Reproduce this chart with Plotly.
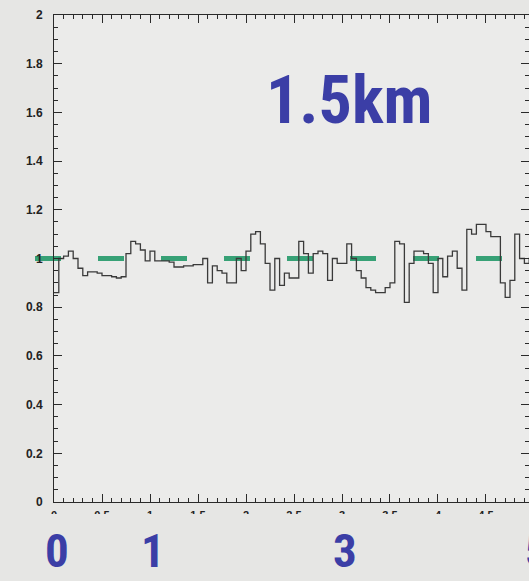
import plotly.graph_objects as go

# Ratio histogram: 100 bins of width 0.05 from 0 to 5
BIN_WIDTH = 0.05
RATIO = [
    0.86, 1.00, 1.01, 1.03, 1.00, 0.96, 0.93, 0.945, 0.945, 0.94,
    0.93, 0.93, 0.925, 0.92, 0.925, 1.02, 1.07, 1.06, 1.035, 0.99,
    1.03, 0.99, 0.99, 0.99, 0.985, 0.965, 0.965, 0.97, 0.97, 0.975,
    0.975, 1.00, 0.90, 0.97, 0.95, 0.94, 0.90, 0.90, 1.00, 0.95,
    1.03, 1.10, 1.11, 1.06, 0.98, 0.87, 1.00, 0.89, 0.94, 0.92,
    0.92, 1.07, 1.02, 0.94, 1.02, 1.03, 1.02, 0.91, 1.00, 0.98,
    0.98, 1.06, 1.00, 0.95, 0.92, 0.88, 0.87, 0.86, 0.86, 0.88,
    0.90, 1.07, 1.06, 0.82, 0.98, 1.03, 1.03, 1.02, 0.98, 0.86,
    1.00, 0.925, 1.01, 1.03, 0.96, 0.87, 1.12, 1.10, 1.14, 1.14,
    1.11, 1.09, 1.09, 0.90, 0.84, 0.91, 1.10, 1.00, 0.98, 1.00,
]
REF_LEVEL = 1.0
DIST_LABELS = [0, 1, 3, 5]
TITLE = "1.5km"

X_RANGE = [0, 4.948]
Y_RANGE = [0, 2]

BG = "#e6e6e4"
PLOT_BG = "#ebebea"
BLUE = "#3b3ea6"
AXIS = "#2a2a2a"
NARROW = "Liberation Sans Narrow, Roboto Condensed, Liberation Sans, Arial"

# step outline: left edge of every bin plus the closing right edge
edges = [i * BIN_WIDTH for i in range(len(RATIO) + 1)]
ys = RATIO + [RATIO[-1]]

fig = go.Figure()
fig.add_trace(go.Scatter(
    x=edges, y=ys, mode="lines", line_shape="hv",
    line=dict(color="#3a3a3a", width=1.3),
    hoverinfo="skip", showlegend=False,
))


def xfrac(v):
    return (v - X_RANGE[0]) / (X_RANGE[1] - X_RANGE[0])


# dashed reference level, extending a little left of the frame
fig.add_shape(
    type="line", xref="paper", yref="paper", layer="below",
    x0=-0.04, x1=1.0,
    y0=REF_LEVEL / Y_RANGE[1], y1=REF_LEVEL / Y_RANGE[1],
    line=dict(color="#24996a", width=5, dash="26px,37px"),
    opacity=0.9,
)

# lower band that hides the bottom of the x tick labels
fig.add_shape(
    type="rect", xref="paper", yref="paper", layer="above",
    x0=-0.2, x1=1.1, y0=-0.0246, y1=-0.2,
    fillcolor=BG, line=dict(width=0),
)

fig.add_annotation(
    text=TITLE, xref="paper", yref="paper", x=0.621, y=0.825,
    showarrow=False, xanchor="center", yanchor="middle",
    font=dict(family=NARROW, size=66, color=BLUE, weight="bold"),
)

for d in DIST_LABELS:
    fig.add_annotation(
        text=str(d), xref="paper", yref="paper", x=xfrac(d), y=-0.1006,
        showarrow=False, xanchor="center", yanchor="middle", xshift=3,
        font=dict(family=NARROW, size=47, color=BLUE, weight="bold"),
    )

tickfont = dict(family="Liberation Sans, Arial", size=11, color="#222", weight="bold")

fig.update_xaxes(
    range=X_RANGE, showgrid=False, zeroline=False,
    showline=True, linecolor=AXIS, linewidth=1, mirror="ticks",
    ticks="inside", ticklen=8, tickcolor=AXIS, tickwidth=1,
    dtick=0.5, tick0=0, tickfont=tickfont, ticklabelstandoff=3,
    minor=dict(ticks="inside", dtick=0.1, ticklen=4, tickcolor=AXIS, tickwidth=1),
)
fig.update_yaxes(
    range=Y_RANGE, showgrid=False, zeroline=False,
    showline=True, linecolor=AXIS, linewidth=1, mirror="ticks",
    ticks="inside", ticklen=8, tickcolor=AXIS, tickwidth=1,
    dtick=0.2, tick0=0, tickfont=dict(tickfont, size=12), ticklabelstandoff=8,
    minor=dict(ticks="inside", dtick=0.05, ticklen=4, tickcolor=AXIS, tickwidth=1),
)

fig.update_layout(
    width=529, height=581,
    margin=dict(l=54, r=0, t=15, b=79),
    paper_bgcolor=BG, plot_bgcolor=PLOT_BG,
    showlegend=False,
)

fig.write_html("out.html")
